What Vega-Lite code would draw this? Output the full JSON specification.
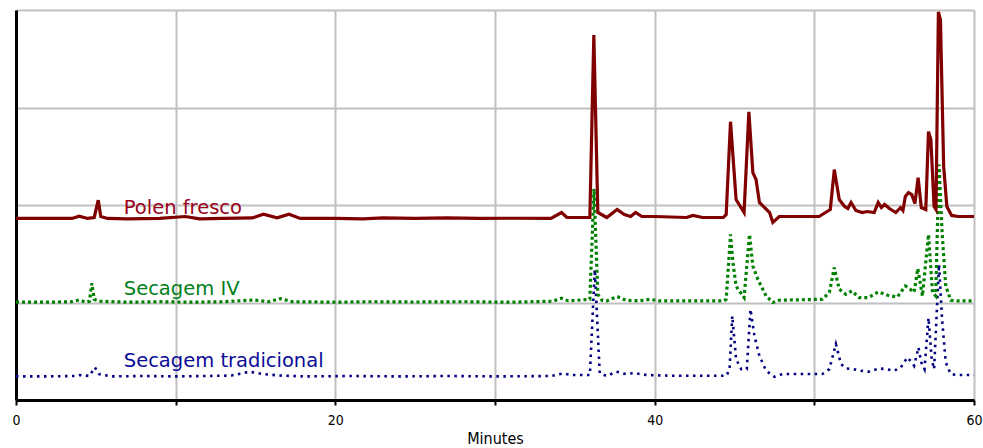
{
  "$schema": "https://vega.github.io/schema/vega-lite/v6.json",
  "width": 958,
  "height": 390,
  "autosize": {"type": "none"},
  "padding": {"left": 16, "top": 10, "right": 9, "bottom": 48},
  "background": "white",
  "config": {"view": {"stroke": null}},
  "datasets": {
    "signals": [
      {"series": "Polen fresco", "minute": 0, "signal": 186.2},
      {"series": "Polen fresco", "minute": 1.5, "signal": 186.2},
      {"series": "Polen fresco", "minute": 3.5, "signal": 186.2},
      {"series": "Polen fresco", "minute": 3.96, "signal": 188.5},
      {"series": "Polen fresco", "minute": 4.48, "signal": 186.2},
      {"series": "Polen fresco", "minute": 4.9, "signal": 187.2},
      {"series": "Polen fresco", "minute": 5.15, "signal": 204.9},
      {"series": "Polen fresco", "minute": 5.31, "signal": 188.2},
      {"series": "Polen fresco", "minute": 5.73, "signal": 186.2},
      {"series": "Polen fresco", "minute": 7, "signal": 185.7},
      {"series": "Polen fresco", "minute": 9, "signal": 186.2},
      {"series": "Polen fresco", "minute": 10.6, "signal": 188.2},
      {"series": "Polen fresco", "minute": 11.5, "signal": 185.7},
      {"series": "Polen fresco", "minute": 13, "signal": 186.2},
      {"series": "Polen fresco", "minute": 14.8, "signal": 186.7},
      {"series": "Polen fresco", "minute": 15.5, "signal": 190.6},
      {"series": "Polen fresco", "minute": 16.35, "signal": 186.9},
      {"series": "Polen fresco", "minute": 17.1, "signal": 190.6},
      {"series": "Polen fresco", "minute": 17.8, "signal": 186.2},
      {"series": "Polen fresco", "minute": 20, "signal": 186.2},
      {"series": "Polen fresco", "minute": 21.7, "signal": 185.7},
      {"series": "Polen fresco", "minute": 23, "signal": 186.7},
      {"series": "Polen fresco", "minute": 25, "signal": 186.2},
      {"series": "Polen fresco", "minute": 27, "signal": 186.7},
      {"series": "Polen fresco", "minute": 29, "signal": 186.2},
      {"series": "Polen fresco", "minute": 31, "signal": 186.4},
      {"series": "Polen fresco", "minute": 33.5, "signal": 186.2},
      {"series": "Polen fresco", "minute": 34.17, "signal": 192.3},
      {"series": "Polen fresco", "minute": 34.5, "signal": 187.2},
      {"series": "Polen fresco", "minute": 35.94, "signal": 187.2},
      {"series": "Polen fresco", "minute": 36.19, "signal": 374.4},
      {"series": "Polen fresco", "minute": 36.44, "signal": 192.3},
      {"series": "Polen fresco", "minute": 37, "signal": 187.2},
      {"series": "Polen fresco", "minute": 37.65, "signal": 195.4},
      {"series": "Polen fresco", "minute": 38.1, "signal": 190.3},
      {"series": "Polen fresco", "minute": 38.5, "signal": 188.2},
      {"series": "Polen fresco", "minute": 38.8, "signal": 192.3},
      {"series": "Polen fresco", "minute": 39.2, "signal": 188.2},
      {"series": "Polen fresco", "minute": 40, "signal": 188.2},
      {"series": "Polen fresco", "minute": 42, "signal": 187.2},
      {"series": "Polen fresco", "minute": 42.4, "signal": 189.3},
      {"series": "Polen fresco", "minute": 43, "signal": 187.2},
      {"series": "Polen fresco", "minute": 44.3, "signal": 187.2},
      {"series": "Polen fresco", "minute": 44.48, "signal": 190.3},
      {"series": "Polen fresco", "minute": 44.75, "signal": 285.4},
      {"series": "Polen fresco", "minute": 45.1, "signal": 205.6},
      {"series": "Polen fresco", "minute": 45.6, "signal": 192.3},
      {"series": "Polen fresco", "minute": 45.9, "signal": 295.6},
      {"series": "Polen fresco", "minute": 46.15, "signal": 233.2},
      {"series": "Polen fresco", "minute": 46.35, "signal": 226.1},
      {"series": "Polen fresco", "minute": 46.56, "signal": 202.6},
      {"series": "Polen fresco", "minute": 47.2, "signal": 192.3},
      {"series": "Polen fresco", "minute": 47.4, "signal": 182.1},
      {"series": "Polen fresco", "minute": 47.8, "signal": 188.2},
      {"series": "Polen fresco", "minute": 50.3, "signal": 188.2},
      {"series": "Polen fresco", "minute": 50.7, "signal": 192.3},
      {"series": "Polen fresco", "minute": 51.0, "signal": 195.4},
      {"series": "Polen fresco", "minute": 51.25, "signal": 236.3},
      {"series": "Polen fresco", "minute": 51.56, "signal": 205.6},
      {"series": "Polen fresco", "minute": 51.9, "signal": 198.5},
      {"series": "Polen fresco", "minute": 52.1, "signal": 196.4},
      {"series": "Polen fresco", "minute": 52.3, "signal": 202.6},
      {"series": "Polen fresco", "minute": 52.6, "signal": 194.4},
      {"series": "Polen fresco", "minute": 53.0, "signal": 192.3},
      {"series": "Polen fresco", "minute": 53.3, "signal": 193.3},
      {"series": "Polen fresco", "minute": 53.75, "signal": 192.3},
      {"series": "Polen fresco", "minute": 54.0, "signal": 202.6},
      {"series": "Polen fresco", "minute": 54.2, "signal": 197.4},
      {"series": "Polen fresco", "minute": 54.4, "signal": 200.5},
      {"series": "Polen fresco", "minute": 54.7, "signal": 196.4},
      {"series": "Polen fresco", "minute": 55.1, "signal": 192.3},
      {"series": "Polen fresco", "minute": 55.4, "signal": 197.4},
      {"series": "Polen fresco", "minute": 55.55, "signal": 194.4},
      {"series": "Polen fresco", "minute": 55.7, "signal": 208.7},
      {"series": "Polen fresco", "minute": 55.9, "signal": 212.8},
      {"series": "Polen fresco", "minute": 56.1, "signal": 210.7},
      {"series": "Polen fresco", "minute": 56.3, "signal": 201.5},
      {"series": "Polen fresco", "minute": 56.5, "signal": 228.1},
      {"series": "Polen fresco", "minute": 56.7, "signal": 197.4},
      {"series": "Polen fresco", "minute": 56.98, "signal": 195.4},
      {"series": "Polen fresco", "minute": 57.15, "signal": 275.2},
      {"series": "Polen fresco", "minute": 57.3, "signal": 267.0},
      {"series": "Polen fresco", "minute": 57.5, "signal": 198.5},
      {"series": "Polen fresco", "minute": 57.62, "signal": 195.4},
      {"series": "Polen fresco", "minute": 57.77, "signal": 398.0},
      {"series": "Polen fresco", "minute": 57.9, "signal": 389.8},
      {"series": "Polen fresco", "minute": 58.1, "signal": 239.4},
      {"series": "Polen fresco", "minute": 58.3, "signal": 198.5},
      {"series": "Polen fresco", "minute": 58.6, "signal": 189.3},
      {"series": "Polen fresco", "minute": 59, "signal": 188.2},
      {"series": "Polen fresco", "minute": 60, "signal": 188.2},

      {"series": "Secagem IV", "minute": 0, "signal": 100.3},
      {"series": "Secagem IV", "minute": 2, "signal": 100.3},
      {"series": "Secagem IV", "minute": 3.5, "signal": 100.8},
      {"series": "Secagem IV", "minute": 3.94, "signal": 102.6},
      {"series": "Secagem IV", "minute": 4.4, "signal": 100.3},
      {"series": "Secagem IV", "minute": 4.6, "signal": 101.3},
      {"series": "Secagem IV", "minute": 4.75, "signal": 119.7},
      {"series": "Secagem IV", "minute": 4.9, "signal": 103.3},
      {"series": "Secagem IV", "minute": 5.2, "signal": 101.3},
      {"series": "Secagem IV", "minute": 7, "signal": 100.3},
      {"series": "Secagem IV", "minute": 9, "signal": 100.8},
      {"series": "Secagem IV", "minute": 11, "signal": 100.3},
      {"series": "Secagem IV", "minute": 13, "signal": 100.8},
      {"series": "Secagem IV", "minute": 14.9, "signal": 102.6},
      {"series": "Secagem IV", "minute": 15.8, "signal": 100.8},
      {"series": "Secagem IV", "minute": 16.56, "signal": 104.0},
      {"series": "Secagem IV", "minute": 17.3, "signal": 100.8},
      {"series": "Secagem IV", "minute": 20, "signal": 100.3},
      {"series": "Secagem IV", "minute": 22, "signal": 100.8},
      {"series": "Secagem IV", "minute": 25, "signal": 100.5},
      {"series": "Secagem IV", "minute": 28, "signal": 100.8},
      {"series": "Secagem IV", "minute": 31, "signal": 100.3},
      {"series": "Secagem IV", "minute": 33.6, "signal": 101.3},
      {"series": "Secagem IV", "minute": 34.17, "signal": 104.3},
      {"series": "Secagem IV", "minute": 34.6, "signal": 101.6},
      {"series": "Secagem IV", "minute": 35.94, "signal": 103.3},
      {"series": "Secagem IV", "minute": 36.2, "signal": 216.6},
      {"series": "Secagem IV", "minute": 36.44, "signal": 108.4},
      {"series": "Secagem IV", "minute": 36.7, "signal": 102.3},
      {"series": "Secagem IV", "minute": 37.0, "signal": 101.6},
      {"series": "Secagem IV", "minute": 37.65, "signal": 106.1},
      {"series": "Secagem IV", "minute": 38.2, "signal": 102.3},
      {"series": "Secagem IV", "minute": 39, "signal": 101.6},
      {"series": "Secagem IV", "minute": 39.7, "signal": 103.3},
      {"series": "Secagem IV", "minute": 40.3, "signal": 101.6},
      {"series": "Secagem IV", "minute": 44.3, "signal": 101.6},
      {"series": "Secagem IV", "minute": 44.48, "signal": 103.3},
      {"series": "Secagem IV", "minute": 44.75, "signal": 169.8},
      {"series": "Secagem IV", "minute": 44.9, "signal": 141.2},
      {"series": "Secagem IV", "minute": 45.1, "signal": 116.6},
      {"series": "Secagem IV", "minute": 45.6, "signal": 105.1},
      {"series": "Secagem IV", "minute": 45.94, "signal": 169.8},
      {"series": "Secagem IV", "minute": 46.15, "signal": 137.4},
      {"series": "Secagem IV", "minute": 46.46, "signal": 123.8},
      {"series": "Secagem IV", "minute": 46.98, "signal": 106.7},
      {"series": "Secagem IV", "minute": 47.4, "signal": 100.0},
      {"series": "Secagem IV", "minute": 47.8, "signal": 102.3},
      {"series": "Secagem IV", "minute": 50.5, "signal": 103.3},
      {"series": "Secagem IV", "minute": 50.94, "signal": 110.2},
      {"series": "Secagem IV", "minute": 51.25, "signal": 135.8},
      {"series": "Secagem IV", "minute": 51.56, "signal": 113.6},
      {"series": "Secagem IV", "minute": 51.98, "signal": 108.4},
      {"series": "Secagem IV", "minute": 52.35, "signal": 111.8},
      {"series": "Secagem IV", "minute": 52.8, "signal": 105.1},
      {"series": "Secagem IV", "minute": 53.4, "signal": 105.1},
      {"series": "Secagem IV", "minute": 54.0, "signal": 110.8},
      {"series": "Secagem IV", "minute": 54.6, "signal": 107.4},
      {"series": "Secagem IV", "minute": 55.2, "signal": 105.7},
      {"series": "Secagem IV", "minute": 55.7, "signal": 116.9},
      {"series": "Secagem IV", "minute": 56.0, "signal": 113.6},
      {"series": "Secagem IV", "minute": 56.25, "signal": 110.5},
      {"series": "Secagem IV", "minute": 56.48, "signal": 134.8},
      {"series": "Secagem IV", "minute": 56.77, "signal": 106.7},
      {"series": "Secagem IV", "minute": 57.15, "signal": 169.8},
      {"series": "Secagem IV", "minute": 57.4, "signal": 110.2},
      {"series": "Secagem IV", "minute": 57.6, "signal": 106.7},
      {"series": "Secagem IV", "minute": 57.81, "signal": 241.4},
      {"series": "Secagem IV", "minute": 58.0, "signal": 171.9},
      {"series": "Secagem IV", "minute": 58.23, "signal": 116.9},
      {"series": "Secagem IV", "minute": 58.54, "signal": 102.3},
      {"series": "Secagem IV", "minute": 59, "signal": 101.6},
      {"series": "Secagem IV", "minute": 60, "signal": 101.6},

      {"series": "Secagem tradicional", "minute": 0, "signal": 24.2},
      {"series": "Secagem tradicional", "minute": 2, "signal": 24.2},
      {"series": "Secagem tradicional", "minute": 3.7, "signal": 24.6},
      {"series": "Secagem tradicional", "minute": 4.0, "signal": 25.6},
      {"series": "Secagem tradicional", "minute": 4.6, "signal": 24.6},
      {"series": "Secagem tradicional", "minute": 4.94, "signal": 33.5},
      {"series": "Secagem tradicional", "minute": 5.2, "signal": 26.6},
      {"series": "Secagem tradicional", "minute": 6, "signal": 24.2},
      {"series": "Secagem tradicional", "minute": 8, "signal": 24.6},
      {"series": "Secagem tradicional", "minute": 10, "signal": 24.2},
      {"series": "Secagem tradicional", "minute": 12, "signal": 24.6},
      {"series": "Secagem tradicional", "minute": 13.5, "signal": 25.1},
      {"series": "Secagem tradicional", "minute": 14.6, "signal": 29.0},
      {"series": "Secagem tradicional", "minute": 15.5, "signal": 26.6},
      {"series": "Secagem tradicional", "minute": 16.5, "signal": 25.1},
      {"series": "Secagem tradicional", "minute": 18, "signal": 24.2},
      {"series": "Secagem tradicional", "minute": 21, "signal": 24.6},
      {"series": "Secagem tradicional", "minute": 24, "signal": 24.2},
      {"series": "Secagem tradicional", "minute": 27, "signal": 24.6},
      {"series": "Secagem tradicional", "minute": 30, "signal": 24.2},
      {"series": "Secagem tradicional", "minute": 33.5, "signal": 24.6},
      {"series": "Secagem tradicional", "minute": 34.27, "signal": 27.3},
      {"series": "Secagem tradicional", "minute": 34.8, "signal": 25.6},
      {"series": "Secagem tradicional", "minute": 35.94, "signal": 25.6},
      {"series": "Secagem tradicional", "minute": 36.25, "signal": 134.0},
      {"series": "Secagem tradicional", "minute": 36.56, "signal": 27.3},
      {"series": "Secagem tradicional", "minute": 37.0, "signal": 24.6},
      {"series": "Secagem tradicional", "minute": 37.6, "signal": 29.0},
      {"series": "Secagem tradicional", "minute": 38.2, "signal": 26.6},
      {"series": "Secagem tradicional", "minute": 38.7, "signal": 27.6},
      {"series": "Secagem tradicional", "minute": 39.5, "signal": 25.6},
      {"series": "Secagem tradicional", "minute": 41, "signal": 24.9},
      {"series": "Secagem tradicional", "minute": 44.5, "signal": 24.9},
      {"series": "Secagem tradicional", "minute": 44.69, "signal": 31.7},
      {"series": "Secagem tradicional", "minute": 44.86, "signal": 86.2},
      {"series": "Secagem tradicional", "minute": 45.1, "signal": 41.9},
      {"series": "Secagem tradicional", "minute": 45.42, "signal": 31.7},
      {"series": "Secagem tradicional", "minute": 45.77, "signal": 31.7},
      {"series": "Secagem tradicional", "minute": 46.0, "signal": 93.1},
      {"series": "Secagem tradicional", "minute": 46.25, "signal": 65.8},
      {"series": "Secagem tradicional", "minute": 46.56, "signal": 45.3},
      {"series": "Secagem tradicional", "minute": 46.98, "signal": 30.0},
      {"series": "Secagem tradicional", "minute": 47.5, "signal": 23.8},
      {"series": "Secagem tradicional", "minute": 48.0, "signal": 26.6},
      {"series": "Secagem tradicional", "minute": 50.5, "signal": 26.6},
      {"series": "Secagem tradicional", "minute": 50.94, "signal": 31.7},
      {"series": "Secagem tradicional", "minute": 51.35, "signal": 57.3},
      {"series": "Secagem tradicional", "minute": 51.67, "signal": 36.8},
      {"series": "Secagem tradicional", "minute": 52.0, "signal": 32.4},
      {"series": "Secagem tradicional", "minute": 52.4, "signal": 31.7},
      {"series": "Secagem tradicional", "minute": 52.9, "signal": 30.0},
      {"series": "Secagem tradicional", "minute": 53.4, "signal": 29.0},
      {"series": "Secagem tradicional", "minute": 54.06, "signal": 32.4},
      {"series": "Secagem tradicional", "minute": 54.5, "signal": 31.7},
      {"series": "Secagem tradicional", "minute": 55.0, "signal": 30.0},
      {"series": "Secagem tradicional", "minute": 55.42, "signal": 33.5},
      {"series": "Secagem tradicional", "minute": 55.83, "signal": 43.7},
      {"series": "Secagem tradicional", "minute": 56.1, "signal": 38.6},
      {"series": "Secagem tradicional", "minute": 56.25, "signal": 35.1},
      {"series": "Secagem tradicional", "minute": 56.52, "signal": 53.9},
      {"series": "Secagem tradicional", "minute": 56.7, "signal": 38.6},
      {"series": "Secagem tradicional", "minute": 56.9, "signal": 31.7},
      {"series": "Secagem tradicional", "minute": 57.15, "signal": 84.3},
      {"series": "Secagem tradicional", "minute": 57.35, "signal": 41.9},
      {"series": "Secagem tradicional", "minute": 57.5, "signal": 31.7},
      {"series": "Secagem tradicional", "minute": 57.81, "signal": 139.1},
      {"series": "Secagem tradicional", "minute": 58.0, "signal": 82.9},
      {"series": "Secagem tradicional", "minute": 58.23, "signal": 38.6},
      {"series": "Secagem tradicional", "minute": 58.54, "signal": 26.6},
      {"series": "Secagem tradicional", "minute": 59, "signal": 25.6},
      {"series": "Secagem tradicional", "minute": 60, "signal": 25.6}
    ],
    "labels": [
      {"series": "Polen fresco", "minute": 6.75, "signal": 197.0},
      {"series": "Secagem IV", "minute": 6.75, "signal": 114.2},
      {"series": "Secagem tradicional", "minute": 6.75, "signal": 39.5}
    ]
  },
  "encoding": {
    "x": {
      "field": "minute", "type": "quantitative",
      "scale": {"domain": [0, 60], "nice": false, "zero": false},
      "axis": {
        "title": "Minutes",
        "values": [0, 10, 20, 30, 40, 50, 60],
        "labelExpr": "datum.value % 20 == 0 ? datum.label : ''",
        "grid": true, "gridColor": "#c0c0c0", "gridWidth": 2, "gridOpacity": 1,
        "domainColor": "#000000", "domainWidth": 3,
        "tickColor": "#000000", "tickWidth": 2, "tickSize": 5,
        "labelFont": "'Liberation Sans Narrow', 'DejaVu Sans Condensed', 'Liberation Sans'", "labelFontSize": 14, "labelColor": "#000000",
        "labelPadding": 8, "labelFlush": false,
        "titleFont": "'Liberation Sans Narrow', 'DejaVu Sans Condensed', 'Liberation Sans'", "titleFontSize": 16, "titleFontWeight": "normal",
        "titleColor": "#000000", "titlePadding": 3
      }
    },
    "y": {
      "field": "signal", "type": "quantitative",
      "scale": {"domain": [0, 400], "nice": false, "zero": false},
      "axis": {
        "title": null, "labels": false, "ticks": false,
        "values": [0, 100, 200, 300, 400],
        "grid": true, "gridColor": "#c0c0c0", "gridWidth": 2, "gridOpacity": 1,
        "domainColor": "#000000", "domainWidth": 3
      }
    }
  },
  "layer": [
    {
      "data": {"name": "signals"},
      "transform": [{"filter": "datum.series == 'Secagem tradicional'"}],
      "mark": {"type": "line", "color": "#000080", "strokeWidth": 2.6, "strokeDash": [2.5, 4.5], "clip": true}
    },
    {
      "data": {"name": "signals"},
      "transform": [{"filter": "datum.series == 'Secagem IV'"}],
      "mark": {"type": "line", "color": "#008000", "strokeWidth": 3.2, "strokeDash": [3, 3], "clip": true}
    },
    {
      "data": {"name": "signals"},
      "transform": [{"filter": "datum.series == 'Polen fresco'"}],
      "mark": {"type": "line", "color": "#800000", "strokeWidth": 3.2, "clip": true}
    },
    {
      "data": {"name": "labels"},
      "mark": {"type": "text", "align": "left", "baseline": "middle", "font": "DejaVu Sans", "fontSize": 19.5},
      "encoding": {
        "text": {"field": "series"},
        "color": {
          "field": "series", "type": "nominal", "legend": null,
          "scale": {"domain": ["Polen fresco", "Secagem IV", "Secagem tradicional"], "range": ["#99001a", "#00801a", "#0a0a99"]}
        }
      }
    }
  ]
}
